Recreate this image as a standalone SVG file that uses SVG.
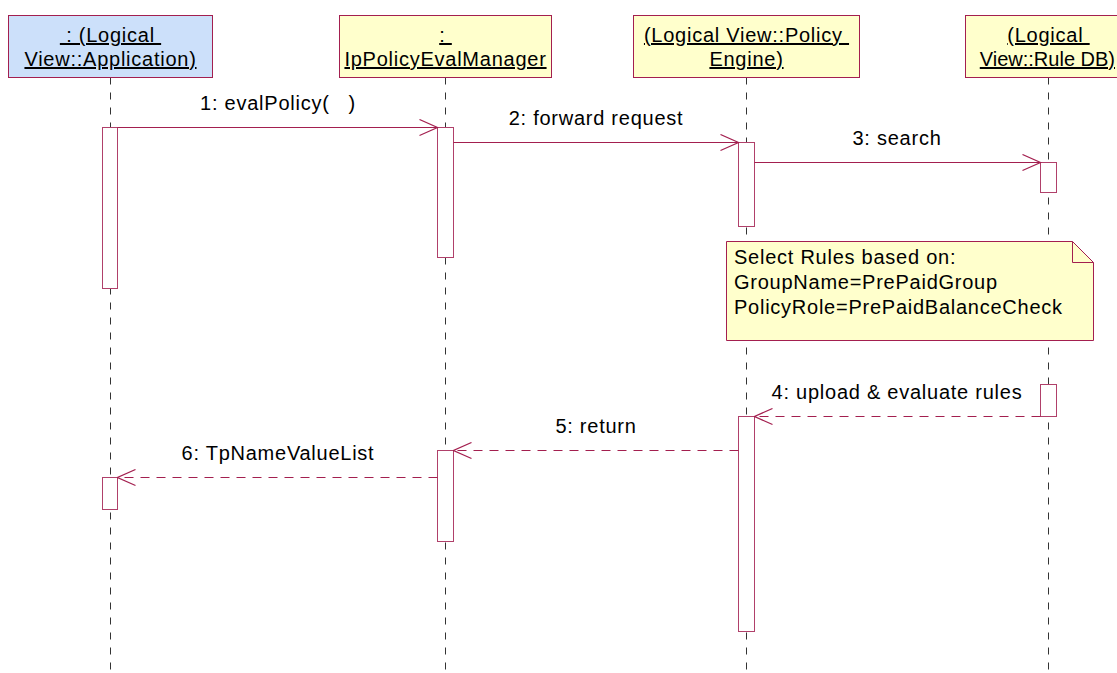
<svg xmlns="http://www.w3.org/2000/svg" width="1117" height="673" viewBox="0 0 1117 673">
<style>
text{font-family:"Liberation Sans",Arial,sans-serif;font-size:20px;letter-spacing:0.75px;fill:#000;white-space:pre}
.obj{stroke:#a31f4f;stroke-width:1}
.t{text-anchor:middle;text-decoration:underline}
.life{stroke:#333;stroke-width:1;stroke-dasharray:7 8;fill:none}
.bar{fill:#fff;stroke:#b0406a;stroke-width:1}
.msg{stroke:#a31f4f;stroke-width:1;fill:none;marker-end:url(#open)}
.ret{stroke-dasharray:9 7}
.lbl{text-anchor:middle}
</style>
<defs>
<marker id="open" viewBox="0 0 20 18" markerWidth="20" markerHeight="18" refX="19" refY="9" orient="auto" markerUnits="userSpaceOnUse">
<path d="M1,1 L19,9 L1,17" fill="none" stroke="#a31f4f" stroke-width="1.2"/>
</marker>
</defs>
<g id="lifelines">
<line class="life" x1="110.5" y1="77.5" x2="110.5" y2="673"/>
<line class="life" x1="445.5" y1="77.5" x2="445.5" y2="673"/>
<line class="life" x1="746.5" y1="77.5" x2="746.5" y2="673"/>
<line class="life" x1="1048.5" y1="77.5" x2="1048.5" y2="673"/>
</g>
<g id="app">
<rect class="obj" x="8.5" y="15.5" width="204" height="62" fill="#cce0fa"/>
<text class="t" x="110.5" y="42" xml:space="preserve"> : (Logical </text>
<text class="t" x="110.5" y="66">View::Application)</text>
<rect class="bar" x="102.5" y="127.5" width="15" height="161"/>
<rect class="bar" x="102.5" y="477.5" width="15" height="32"/>
</g>
<g id="evalmanager">
<rect class="obj" x="339.5" y="15.5" width="212" height="62" fill="#ffffcc"/>
<text class="t" x="445.5" y="42" xml:space="preserve">: </text>
<text class="t" x="445.5" y="66">IpPolicyEvalManager</text>
<rect class="bar" x="437.5" y="127.5" width="16" height="130"/>
<rect class="bar" x="437.5" y="450.5" width="16" height="91"/>
</g>
<g id="policyengine">
<rect class="obj" x="633.5" y="15.5" width="226" height="62" fill="#ffffcc"/>
<text class="t" x="746.5" y="42" xml:space="preserve">(Logical View::Policy </text>
<text class="t" x="746.5" y="66">Engine)</text>
<rect class="bar" x="738.5" y="142.5" width="16" height="84"/>
<rect class="bar" x="738.5" y="416.5" width="16" height="215"/>
</g>
<g id="ruledb">
<rect class="obj" x="965.5" y="15.5" width="170" height="62" fill="#ffffcc"/>
<text class="t" x="1048.5" y="42" xml:space="preserve">(Logical </text>
<text class="t" x="1115" y="66" style="text-anchor:end;letter-spacing:0">View::Rule DB)</text>
<rect class="bar" x="1040.5" y="162.5" width="16" height="30"/>
<rect class="bar" x="1040.5" y="384.5" width="16" height="32"/>
</g>
<g id="note">
<path class="obj" d="M726.5,241.5 H1072.5 L1093.5,262.5 V340.5 H726.5 Z" fill="#ffffcc"/>
<path class="obj" d="M1072.5,241.5 V262.5 H1093.5" fill="none"/>
<text x="734" y="264">Select Rules based on:</text>
<text x="734" y="289">GroupName=PrePaidGroup</text>
<text x="734" y="314">PolicyRole=PrePaidBalanceCheck</text>
</g>
<g id="connectors">
<line class="msg" x1="117.5" y1="127.5" x2="437.5" y2="127.5"/>
<line class="msg" x1="453.5" y1="142.5" x2="738.5" y2="142.5"/>
<line class="msg" x1="754.5" y1="162.5" x2="1040.5" y2="162.5"/>
<line class="msg ret" x1="1040.5" y1="416.5" x2="754.5" y2="416.5"/>
<line class="msg ret" x1="738.5" y1="450.5" x2="453.5" y2="450.5"/>
<line class="msg ret" x1="437.5" y1="477.5" x2="117.5" y2="477.5"/>
<text class="lbl" x="278" y="110" xml:space="preserve">1: evalPolicy(   )</text>
<text class="lbl" x="596" y="125">2: forward request</text>
<text class="lbl" x="897" y="145">3: search</text>
<text class="lbl" x="897" y="399">4: upload &amp; evaluate rules</text>
<text class="lbl" x="596" y="433">5: return</text>
<text class="lbl" x="278" y="460">6: TpNameValueList</text>
</g>
</svg>
